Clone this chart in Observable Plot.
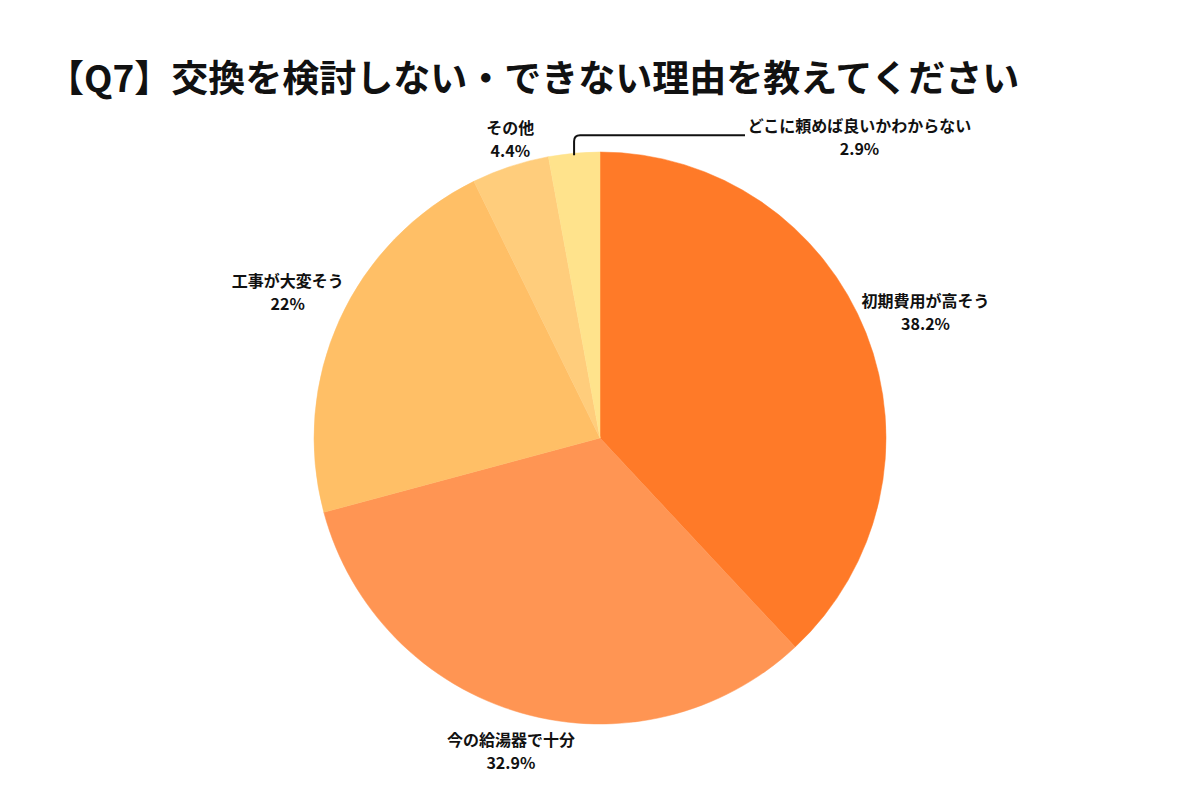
<!DOCTYPE html>
<html>
<head>
<meta charset="utf-8">
<script src="https://cdn.jsdelivr.net/npm/d3@7"></script>
<script src="https://cdn.jsdelivr.net/npm/@observablehq/plot@0.6"></script>
<style>
  html, body { margin: 0; padding: 0; background: #fff; }
  #wrap { width: 1200px; height: 800px; position: relative; overflow: hidden; }
  #title { position: absolute; left: 47px; top: 58px; font-family: "Noto Sans CJK JP", sans-serif; font-weight: 700; font-size: 37px; color: #111; white-space: nowrap; line-height: 1; }
  #chart { position: absolute; left: 0; top: 105px; }
</style>
</head>
<body>
<div id="wrap">
  <div id="title">【Q7】交換を検討しない・できない理由を教えてください</div>
  <div id="chart"></div>
</div>
<script>
const categories = ["初期費用が高そう", "今の給湯器で十分", "工事が大変そう", "その他", "どこに頼めば良いかわからない"];
const values = [38.2, 32.9, 22, 4.4, 2.9];
const colors = ["#FF7A28", "#FF9553", "#FFBF66", "#FFCD7C", "#FFE38C"];

const W = 1200, H = 695;
const CX = 600, CY = 333, R = 286;
const font = "Noto Sans CJK JP, Noto Sans, sans-serif";

const data = categories.map((c, i) => ({category: c, value: values[i], color: colors[i]}));
const arcs = d3.pie().sort(null).value(d => d.value)(data);
arcs.forEach(a => { a.mid = (a.startAngle + a.endAngle) / 2; });

// label layout: radial distance and fine offsets
const labelDist = [R + 58, R + 40, R + 52, R + 30, null];
const labelOff = [[5, -1.5], [0, -2], [-5, -7.5], [9, 0], null];
const labels = arcs.filter((a, i) => labelDist[i] != null).map((a) => {
  const i = a.index;
  return {
    x: CX + labelDist[i] * Math.sin(a.mid) + labelOff[i][0],
    y: CY - labelDist[i] * Math.cos(a.mid) + labelOff[i][1],
    text: a.data.category + "\n" + a.data.value + "%"
  };
});
// small slice with leader line
const small = arcs[4];
const sx = CX + R * Math.sin(small.mid), sy = CY - R * Math.cos(small.mid);
const leaderY = sy - 18, leaderX2 = 745;
labels.push({x: 859, y: leaderY, text: small.data.category + "\n" + small.data.value + "%"});

const pieMark = (index, scales) => {
  const g = d3.create("svg:g");
  const cx = scales.x(CX), cy = scales.y(CY);
  const arcGen = d3.arc().innerRadius(0).outerRadius(scales.x(CX + R) - cx);
  g.selectAll("path.slice").data(arcs).join("path")
    .attr("class", "slice")
    .attr("transform", `translate(${cx},${cy})`)
    .attr("d", arcGen)
    .attr("fill", d => d.data.color)
    .attr("stroke", d => d.data.color)
    .attr("stroke-width", 0.5);
  // leader line for the small slice
  const x0 = scales.x(sx), y0 = scales.y(sy) + 2, y1 = scales.y(leaderY), x2 = scales.x(leaderX2);
  const rr = 6;
  g.append("path")
    .attr("d", `M${x0},${y0} L${x0},${y1 + rr} Q${x0},${y1} ${x0 + rr},${y1} L${x2},${y1}`)
    .attr("fill", "none")
    .attr("stroke", "#111")
    .attr("stroke-width", 2);
  return g.node();
};

const plot = Plot.plot({
  width: W,
  height: H,
  margin: 0,
  x: {domain: [0, W], range: [0, W], axis: null},
  y: {domain: [0, H], range: [0, H], axis: null},
  marks: [
    pieMark,
    Plot.text(labels, {
      x: "x", y: "y", text: "text",
      fontFamily: font, fontWeight: 700, fontSize: 16,
      lineHeight: 1.45, fill: "#111", textAnchor: "middle"
    })
  ]
});
plot.style.fontFamily = font;
document.getElementById("chart").appendChild(plot);
</script>
</body>
</html>
